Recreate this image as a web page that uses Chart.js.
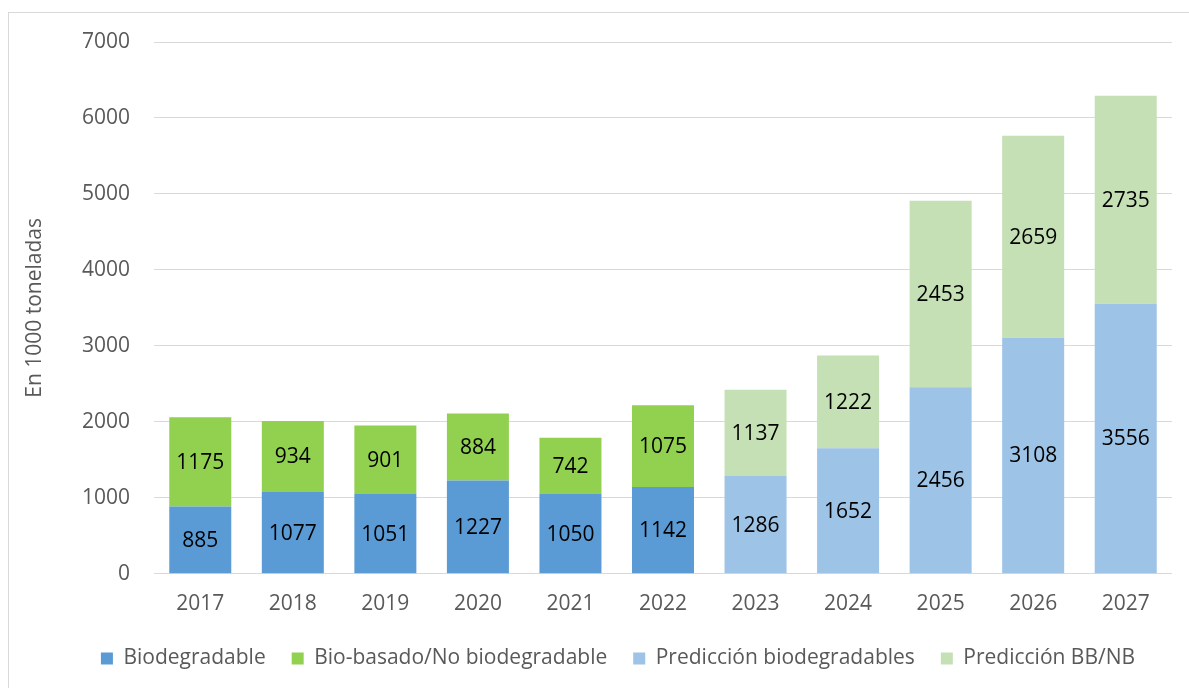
<!DOCTYPE html>
<html>
<head>
<meta charset="utf-8">
<script src="https://cdn.jsdelivr.net/npm/chart.js@4.4.1/dist/chart.umd.min.js"></script>
<style>
  html, body { margin: 0; padding: 0; overflow: hidden; background: #fff; }
  #wrap { position: relative; width: 1189px; height: 688px; }
  #frame { position: absolute; left: 8px; top: 12px; width: 2000px; height: 2000px; border: 1px solid #d9d9d9; }
  #myChart { position: absolute; left: 0; top: 0; }
</style>
</head>
<body>
<div id="wrap">
  <div id="frame"></div>
  <canvas id="myChart" width="1189" height="688"></canvas>
</div>
<script>
// data
var years = ['2017', '2018', '2019', '2020', '2021', '2022', '2023', '2024', '2025', '2026', '2027']
var biodegradable = [885, 1077, 1051, 1227, 1050, 1142, null, null, null, null, null]
var bioBasado = [1175, 934, 901, 884, 742, 1075, null, null, null, null, null]
var predBio = [null, null, null, null, null, null, 1286, 1652, 2456, 3108, 3556]
var predBBNB = [null, null, null, null, null, null, 1137, 1222, 2453, 2659, 2735]
var yTicks = [0, 1000, 2000, 3000, 4000, 5000, 6000, 7000]
var yTitle = 'En 1000 toneladas'

var FONT = "'Open Sans', 'DejaVu Sans', sans-serif"

// draws the numbers in the middle of each bar segment
const segmentLabels = {
    id: 'segmentLabels',
    afterDatasetsDraw(chart) {
        const ctx = chart.ctx
        ctx.save()
        ctx.font = '21px ' + FONT
        ctx.fillStyle = '#000'
        ctx.textAlign = 'center'
        ctx.textBaseline = 'middle'
        chart.data.datasets.forEach(function (ds, i) {
            const meta = chart.getDatasetMeta(i)
            meta.data.forEach(function (bar, j) {
                const v = ds.data[j]
                if (v == null) return
                const mid = (bar.y + bar.base) / 2
                ctx.fillText(String(v), bar.x, mid + 1)
            })
        })
        ctx.restore()
    }
}

// y axis title, drawn by hand so it can sit left of the padded area
const axisTitle = {
    id: 'axisTitle',
    afterDraw(chart) {
        const ctx = chart.ctx
        const area = chart.chartArea
        ctx.save()
        ctx.translate(35, (area.top + area.bottom) / 2)
        ctx.rotate(-Math.PI / 2)
        ctx.font = '21px ' + FONT
        ctx.fillStyle = '#595959'
        ctx.textAlign = 'center'
        ctx.textBaseline = 'middle'
        ctx.fillText(yTitle, 0, 0)
        ctx.restore()
    }
}

function init_chart() {
    const ctx = document.getElementById('myChart')

    new Chart(ctx, {
        type: 'bar',
        data: {
            labels: years,
            datasets: [{
                label: 'Biodegradable',
                data: biodegradable,
                backgroundColor: '#5b9bd5'
            }, {
                label: 'Bio-basado/No biodegradable',
                data: bioBasado,
                backgroundColor: '#92d050'
            }, {
                label: 'Predicción biodegradables',
                data: predBio,
                backgroundColor: '#9dc3e6'
            }, {
                label: 'Predicción BB/NB',
                data: predBBNB,
                backgroundColor: '#c5e0b4'
            }]
        },
        options: {
            responsive: false,
            animation: false,
            datasets: {
                bar: {
                    categoryPercentage: 1,
                    barPercentage: 0.67,
                    borderWidth: 0
                }
            },
            layout: {
                padding: { left: 64, right: 17, top: 42, bottom: 9 }
            },
            plugins: {
                tooltip: { enabled: false },
                legend: {
                    position: 'bottom',
                    labels: {
                        boxWidth: 12,
                        boxHeight: 12,
                        padding: 26,
                        color: '#595959',
                        font: { family: FONT, size: 21 }
                    }
                }
            },
            scales: {
                x: {
                    stacked: true,
                    grid: { display: false, drawTicks: false },
                    border: { display: false },
                    afterFit: function (axis) {
                        axis.height = axis.height - 13
                    },
                    ticks: {
                        padding: 18,
                        color: '#595959',
                        font: { family: FONT, size: 21 }
                    }
                },
                y: {
                    stacked: true,
                    min: 0,
                    max: 7000,
                    afterBuildTicks: function (axis) {
                        axis.ticks = yTicks.map(function (v) { return { value: v } })
                    },
                    afterFit: function (axis) {
                        axis.width = 90
                    },
                    grid: { color: '#d9d9d9', lineWidth: 1, drawTicks: false },
                    border: { display: false },
                    ticks: {
                        padding: 24,
                        color: '#595959',
                        font: { family: FONT, size: 21 },
                        callback: function (v) { return String(v) }
                    }
                }
            }
        },
        plugins: [segmentLabels, axisTitle]
    })
}
init_chart()
</script>
</body>
</html>
